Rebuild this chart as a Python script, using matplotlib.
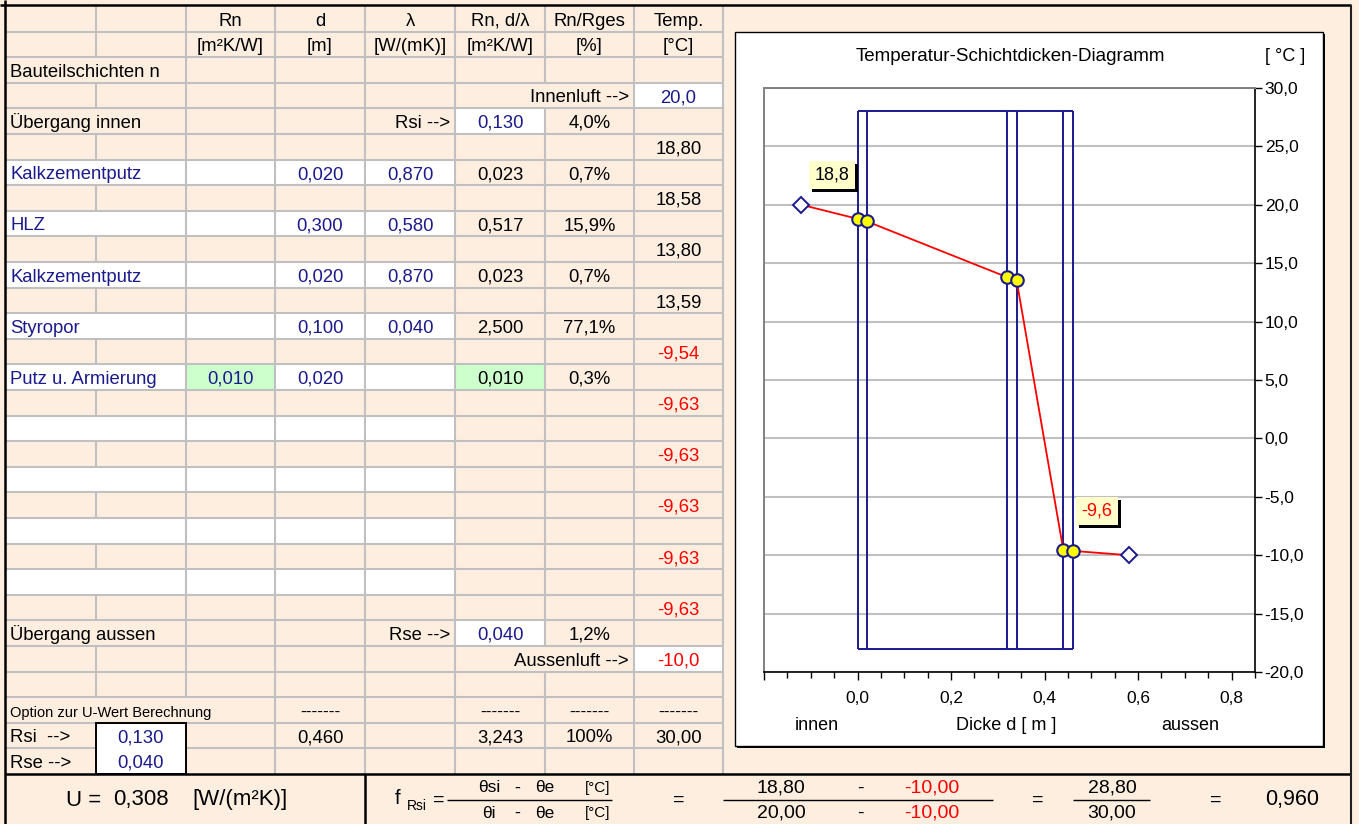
import numpy as np
import matplotlib
matplotlib.use("Agg")
import matplotlib.pyplot as plt
import matplotlib.patheffects as pe
from matplotlib.patches import Rectangle

plt.rcParams['font.family'] = ['Liberation Sans', 'DejaVu Sans']

# ---- table values ----
col_heads = ["Rn", "d", "λ", "Rn, d/λ", "Rn/Rges", "Temp."]
col_units = ["[m²K/W]", "[m]", "[W/(mK)]", "[m²K/W]", "[%]", "[°C]"]

layer_names = ["Kalkzementputz", "HLZ", "Kalkzementputz", "Styropor", "Putz u. Armierung"]
layer_rn = [None, None, None, None, 0.010]
layer_d = [0.020, 0.300, 0.020, 0.100, 0.020]
layer_lam = [0.870, 0.580, 0.870, 0.040, None]
layer_r = [0.023, 0.517, 0.023, 2.500, 0.010]
layer_pct = [0.7, 15.9, 0.7, 77.1, 0.3]

temps = [18.80, 18.58, 13.80, 13.59, -9.54, -9.63, -9.63, -9.63, -9.63, -9.63]
t_in, t_out = 20.0, -10.0
rsi, rse = 0.130, 0.040
rsi_pct, rse_pct = 4.0, 1.2
d_sum, r_sum, pct_sum, dt_sum = 0.460, 3.243, 100, 30.00
u_val = 0.308
theta_si, theta_i, theta_e = 18.80, 20.00, -10.00
diff_top, diff_bot = 28.80, 30.00
f_rsi = 0.960

# ---- diagram values ----
pos_x = [0.00, 0.02, 0.32, 0.34, 0.44, 0.46]
pos_t = [18.80, 18.58, 13.80, 13.59, -9.54, -9.63]
air_x = [-0.12, 0.58]
air_t = [20.0, -10.0]
wall_top, wall_bot = 28, -18

BEIGE = "#fdeee0"
GRID = "#c0c0c0"
NAVY = "#1a1a8c"
RED = "#ff0000"
GREEN = "#ccffcc"
FS = 13.3


def num(v, n=3):
    return f"{v:.{n}f}".replace(".", ",")


def pct(v):
    return f"{v:.1f}%".replace(".", ",")


W, H = 1359, 824
fig = plt.figure(figsize=(W / 100, H / 100), dpi=100)
fig.patch.set_facecolor(BEIGE)
bg = fig.add_axes([0, 0, 1, 1])
bg.set_xlim(0, W)
bg.set_ylim(H, 0)
bg.axis('off')

RH = 25.6


def ry(i):
    return 6 + RH * i


def cell(x0, x1, r, color):
    bg.add_patch(Rectangle((x0, ry(r)), x1 - x0, RH, facecolor=color,
                           edgecolor='none', zorder=1))


def put(x, r, s, ha='center', color='black', fs=FS):
    bg.text(x, ry(r) + 19.5, s, ha=ha, va='baseline', color=color,
            fontsize=fs, zorder=5)


cx = [230.5, 320, 410, 500, 589.5, 678.5]

# white / green cells
cell(634, 723, 3, 'white')
cell(455, 545, 4, 'white')
for r in range(6, 23, 2):
    cell(5, 455, r, 'white')
for i, rn in enumerate(layer_rn):
    if rn is not None:
        cell(186, 275, 6 + 2 * i, GREEN)
        cell(455, 545, 6 + 2 * i, GREEN)
cell(455, 545, 24, 'white')
cell(634, 723, 25, 'white')

# grid lines
bg.hlines([ry(i) for i in range(1, 30)], 5, 723, color=GRID, lw=1.5, zorder=2)
for r in range(30):
    xs = [186, 275, 365, 455, 545, 634]
    split = r < 2 or (r % 2 == 1 and r <= 25) or r == 26
    if split:
        xs.append(96)
    if r in (3, 25):
        xs.remove(545)
    if r == 27:
        xs.remove(186)
    bg.vlines(xs, ry(r), ry(r + 1), color=GRID, lw=1.5, zorder=2)
bg.vlines(723, 6, 774, color=GRID, lw=1.5, zorder=2)

# black frame
bg.hlines(5, 0, 1351, color='black', lw=1.8, zorder=6)
bg.hlines(774, 5, 1351, color='black', lw=1.8, zorder=6)
bg.vlines(5, 0, 824, color='black', lw=1.8, zorder=6)
bg.vlines(1351, 5, 824, color='#202020', lw=1.5, zorder=6)
bg.vlines(365, 774, 824, color='black', lw=1.8, zorder=6)
bg.add_patch(Rectangle((96, ry(28)), 90, 2 * RH, facecolor='white',
                       edgecolor='black', lw=1.4, zorder=4))

# header rows
for x, h, u in zip(cx, col_heads, col_units):
    put(x, 0, h)
    put(x, 1, u)
put(10, 2, "Bauteilschichten n", ha='left')
put(629, 3, "Innenluft -->", ha='right')
put(cx[5], 3, num(t_in, 1), color=NAVY)
put(10, 4, "Übergang innen", ha='left')
put(450, 4, "Rsi -->", ha='right')
put(cx[3], 4, num(rsi), color=NAVY)
put(cx[4], 4, pct(rsi_pct))

for k, t in enumerate(temps):
    put(cx[5], 5 + 2 * k, num(t, 2), color=RED if t < 0 else 'black')

for i in range(len(layer_names)):
    r = 6 + 2 * i
    put(10, r, layer_names[i], ha='left', color=NAVY)
    if layer_rn[i] is not None:
        put(cx[0], r, num(layer_rn[i]), color=NAVY)
    put(cx[1], r, num(layer_d[i]), color=NAVY)
    if layer_lam[i] is not None:
        put(cx[2], r, num(layer_lam[i]), color=NAVY)
    put(cx[3], r, num(layer_r[i]))
    put(cx[4], r, pct(layer_pct[i]))

put(10, 24, "Übergang aussen", ha='left')
put(450, 24, "Rse -->", ha='right')
put(cx[3], 24, num(rse), color=NAVY)
put(cx[4], 24, pct(rse_pct))
put(629, 25, "Aussenluft -->", ha='right')
put(cx[5], 25, num(t_out, 1), color=RED)

put(10, 27, "Option zur U-Wert Berechnung", ha='left', fs=10.5)
for x in (cx[1], cx[3], cx[4], cx[5]):
    put(x, 27, "-------", fs=12.5)
put(10, 28, "Rsi  -->", ha='left')
put(141, 28, num(rsi), color=NAVY)
put(cx[1], 28, num(d_sum))
put(cx[3], 28, num(r_sum))
put(cx[4], 28, f"{pct_sum}%")
put(cx[5], 28, num(dt_sum, 2))
put(10, 29, "Rse -->", ha='left')
put(141, 29, num(rse), color=NAVY)

# bottom formula row
yb, yn, yd = 800, 788, 813
bg.text(84, yb, "U =", ha='center', va='center', fontsize=16)
bg.text(141, yb, num(u_val), ha='center', va='center', fontsize=16)
bg.text(240, yb, "[W/(m²K)]", ha='center', va='center', fontsize=16)
bg.text(398, yb - 1, "f", ha='center', va='center', fontsize=14.5)
bg.text(417, yb + 6, "Rsi", ha='center', va='center', fontsize=10)
bg.text(439, yb, "=", ha='center', va='center', fontsize=14)
bg.hlines(yb, 447, 612, color='black', lw=1)
for y, a in ((yn, "θsi"), (yd, "θi")):
    bg.text(489, y, a, ha='center', va='center', fontsize=12.5)
    bg.text(517, y, "-", ha='center', va='center', fontsize=13)
    bg.text(545, y, "θe", ha='center', va='center', fontsize=12.5)
    bg.text(598, y, "[°C]", ha='center', va='center', fontsize=11)
bg.text(679, yb, "=", ha='center', va='center', fontsize=14)
bg.text(781, yn, num(theta_si, 2), ha='center', va='center', fontsize=14)
bg.text(781, yd, num(theta_i, 2), ha='center', va='center', fontsize=14)
for y in (yn, yd):
    bg.text(860, y, "-", ha='center', va='center', fontsize=14)
    bg.text(932, y, num(theta_e, 2), ha='center', va='center', fontsize=14, color=RED)
bg.hlines(yb, 723, 993, color='black', lw=1)
bg.text(1038, yb, "=", ha='center', va='center', fontsize=14)
bg.text(1112, yn, num(diff_top, 2), ha='center', va='center', fontsize=14)
bg.text(1112, yd, num(diff_bot, 2), ha='center', va='center', fontsize=14)
bg.hlines(yb, 1073, 1150, color='black', lw=1)
bg.text(1216, yb, "=", ha='center', va='center', fontsize=14)
bg.text(1292, yb, num(f_rsi), ha='center', va='center', fontsize=15.5)

# chart box with shadow
bg.add_patch(Rectangle((737, 34), 588, 714, facecolor='black', edgecolor='none', zorder=3))
bg.add_patch(Rectangle((735, 32), 588, 714, facecolor='white', edgecolor='black',
                       lw=1, zorder=4))
bg.text(1010, 56, "Temperatur-Schichtdicken-Diagramm", ha='center', va='center',
        fontsize=13.5, zorder=5)
bg.text(1285, 56, "[ °C ]", ha='center', va='center', fontsize=13, zorder=5)
bg.text(817, 726, "innen", ha='center', va='center', fontsize=13, zorder=5)
bg.text(1006, 726, "Dicke d [ m ]", ha='center', va='center', fontsize=13, zorder=5)
bg.text(1190, 726, "aussen", ha='center', va='center', fontsize=13, zorder=5)

# diagram
ax = fig.add_axes([764 / W, 1 - 672 / H, 491 / W, 584 / H])
ax.set_facecolor('white')
ax.set_xlim(-0.2, 0.85)
ax.set_ylim(-20, 30)
yt = list(range(-20, 31, 5))
ax.set_yticks(yt)
ax.set_yticklabels([num(v, 1) for v in yt], fontsize=12.5)
for lbl, v in zip(ax.get_yticklabels(), yt):
    if v < 0:
        lbl.set_color(RED)
ax.yaxis.tick_right()
ax.tick_params(axis='y', length=5, width=1, pad=2, direction='out')
xmaj = [-0.2, 0.0, 0.2, 0.4, 0.6, 0.8]
ax.set_xticks(xmaj)
ax.set_xticklabels([""] + [num(v, 1) for v in xmaj[1:]], fontsize=12.5)
ax.set_xticks(np.arange(-0.2, 0.851, 0.05), minor=True)
ax.tick_params(axis='x', which='major', length=6, width=1, pad=8)
ax.tick_params(axis='x', which='minor', length=4, width=1)
ax.grid(axis='y', color=GRID, lw=1.5)
ax.set_axisbelow(True)
for s in ('left', 'top'):
    ax.spines[s].set_color('#808080')
    ax.spines[s].set_linewidth(1.4)
for s in ('right', 'bottom'):
    ax.spines[s].set_color('black')
    ax.spines[s].set_linewidth(1.2)

ax.vlines(pos_x, wall_bot, wall_top, color=NAVY, lw=1.4, zorder=2)
ax.hlines([wall_top, wall_bot], pos_x[0], pos_x[-1], color=NAVY, lw=1.4, zorder=2)

all_x = [air_x[0]] + pos_x + [air_x[1]]
all_t = [air_t[0]] + pos_t + [air_t[1]]
ax.plot(all_x, all_t, color=RED, lw=1.3, zorder=3)
ax.plot(pos_x, pos_t, 'o', ms=9, mfc='yellow', mec=NAVY, mew=1.5, zorder=4)
ax.plot(air_x, air_t, 'D', ms=8.5, mfc='white', mec=NAVY, mew=1.4, zorder=4)

# data labels with shadow
for xi, ti, off, col in ((pos_x[0], pos_t[0], (-18.5, 31.5), 'black'),
                         (pos_x[-1], pos_t[-1], (17.5, 28.7), RED)):
    ann = ax.annotate(num(ti, 1), (xi, ti), xytext=off, textcoords='offset points',
                      ha='center', va='center', fontsize=13, color=col,
                      bbox=dict(boxstyle='square,pad=0.3', fc='#ffffcc', ec='none'),
                      zorder=6)
    ann.get_bbox_patch().set_path_effects(
        [pe.SimplePatchShadow(offset=(2.2, -2.2), shadow_rgbFace='black', alpha=1.0),
         pe.Normal()])

fig.savefig("out.png", dpi=100, facecolor=BEIGE)
